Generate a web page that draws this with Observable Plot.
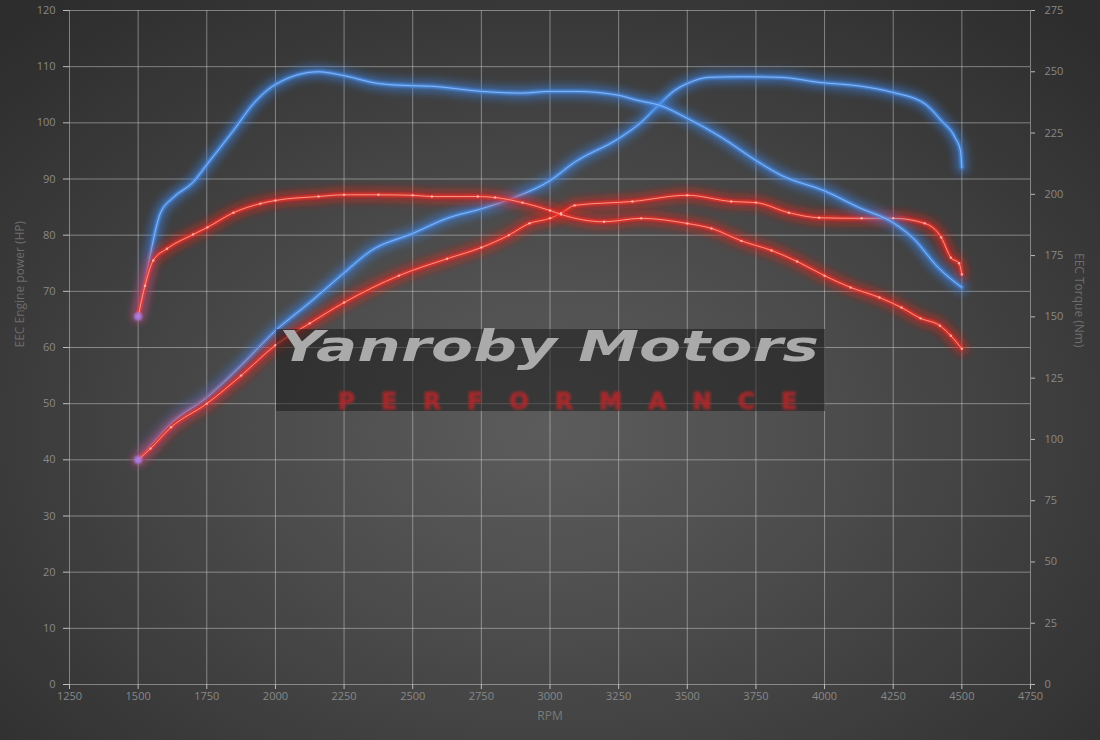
<!DOCTYPE html>
<html>
<head>
<meta charset="utf-8">
<script src="https://cdn.jsdelivr.net/npm/d3@7"></script>
<script src="https://cdn.jsdelivr.net/npm/@observablehq/plot@0.6"></script>
<style>
  html, body { margin: 0; padding: 0; background: #2e2e2e; }
  #wrap {
    position: relative; width: 1100px; height: 740px; overflow: hidden;
    background: radial-gradient(ellipse 70% 75% at 50% 58%, #5c5c5c 0%, #4d4d4d 35%, #3b3b3b 70%, #2d2d2d 100%);
  }
  #chart svg { display: block; }
  #wm { position: absolute; left: 0; top: 0; pointer-events: none; }
</style>
</head>
<body>
<div id="wrap">
  <div id="chart"></div>
  <svg id="wm" width="1100" height="740"></svg>
</div>
<script>
// ---- tick labels ----
const rpmTicks = [1250, 1500, 1750, 2000, 2250, 2500, 2750, 3000, 3250, 3500, 3750, 4000, 4250, 4500, 4750];
const hpTicks = [0, 10, 20, 30, 40, 50, 60, 70, 80, 90, 100, 110, 120];
const nmTicks = [0, 25, 50, 75, 100, 125, 150, 175, 200, 225, 250, 275];

// ---- blue power (HP) ----
const bluePowerRpm = [1500, 1545, 1620, 1750, 1875, 2000, 2125, 2250, 2350, 2500, 2625, 2750, 2870, 3000, 3090, 3250, 3330, 3400, 3455, 3500, 3580, 3700, 3840, 3980, 4135, 4250, 4365, 4425, 4475, 4495, 4500];
const bluePowerHp  = [40, 42.5, 46.5, 51.1, 56.8, 63, 68, 73.3, 77.3, 80.3, 83, 84.7, 86.7, 89.7, 93, 97.2, 100, 103.4, 105.8, 107, 108.1, 108.2, 108.1, 107.2, 106.5, 105.4, 103.4, 100.4, 97.4, 95, 92];

// ---- red power (HP) ----
const redPowerRpm = [1500, 1545, 1620, 1750, 1875, 2000, 2125, 2250, 2450, 2625, 2750, 2850, 2925, 3000, 3040, 3090, 3300, 3500, 3660, 3750, 3870, 3980, 4135, 4250, 4365, 4425, 4460, 4490, 4500];
const redPowerHp  = [40, 42, 45.8, 50, 55, 60.4, 64.3, 68, 72.8, 75.8, 77.8, 80, 82.1, 83, 83.9, 85.3, 86, 87.1, 86, 85.8, 84, 83.1, 83, 83, 82.1, 79.6, 76, 75, 73];

// ---- blue torque (Nm) ----
const blueTorqueRpm = [1500, 1520, 1540, 1580, 1628, 1700, 1752, 1847, 1920, 2000, 2157, 2250, 2375, 2500, 2565, 2750, 2895, 3000, 3090, 3250, 3320, 3400, 3500, 3625, 3750, 3845, 4000, 4125, 4250, 4320, 4415, 4500];
const blueTorqueNm  = [150.1, 161.6, 173.0, 192.0, 198.7, 204.9, 212.4, 226.0, 237.0, 244.8, 250.0, 248.4, 245.2, 244.3, 244.1, 242.0, 241.3, 242.0, 242.0, 240.4, 238.3, 236.3, 231.0, 223.2, 213.8, 207.6, 201.4, 194.6, 188.4, 182.4, 170.0, 162.0];

// ---- red torque (Nm) ----
const redTorqueRpm = [1500, 1525, 1555, 1605, 1700, 1752, 1847, 1945, 2000, 2157, 2250, 2375, 2500, 2570, 2737, 2800, 2900, 3000, 3040, 3197, 3332, 3500, 3588, 3697, 3807, 3900, 4000, 4095, 4200, 4280, 4350, 4420, 4460, 4500];
const redTorqueNm  = [150.1, 162.7, 173.0, 177.8, 183.6, 186.5, 192.5, 196.2, 197.5, 199.1, 199.8, 199.8, 199.6, 199.1, 199.1, 198.7, 196.6, 193.4, 191.8, 188.8, 190.2, 188.1, 186.1, 181.0, 177.1, 172.6, 166.8, 162.0, 157.9, 153.8, 149.4, 146.4, 142.3, 137.0];

// torque is drawn against the HP scale through this ratio (0–275 Nm spans 0–120 HP)
const k = 120 / 275;
const rows = (rpm, vals, f) => rpm.map((r, i) => ({rpm: r, y: vals[i] * f}));

const bluePower = rows(bluePowerRpm, bluePowerHp, 1);
const redPower = rows(redPowerRpm, redPowerHp, 1);
const blueTorque = rows(blueTorqueRpm, blueTorqueNm, k);
const redTorque = rows(redTorqueRpm, redTorqueNm, k);

const BLUE = {glow: "#3a84ea", body: "#4b92ec", core: "#9cc4ff"};
const RED = {glow: "#ee1f1a", body: "#ef2f28", core: "#ffb4a6"};

function glowLine(data, c) {
  return [
    Plot.line(data, {x: "rpm", y: "y", curve: "monotone-x", stroke: c.glow, strokeWidth: 12, strokeOpacity: 0.55, ariaDescription: "glow"}),
    Plot.line(data, {x: "rpm", y: "y", curve: "monotone-x", stroke: c.body, strokeWidth: 3.4, strokeOpacity: 0.95, ariaDescription: "soft"}),
    Plot.line(data, {x: "rpm", y: "y", curve: "monotone-x", stroke: c.core, strokeWidth: 0.9, strokeOpacity: 0.85})
  ];
}

const starts = [bluePower[0], redPower[0], blueTorque[0], redTorque[0]];

const svg = Plot.plot({
  width: 1100,
  height: 740,
  marginLeft: 69,
  marginRight: 70,
  marginTop: 10,
  marginBottom: 56,
  x: {domain: [1250, 4750]},
  y: {domain: [0, 120]},
  style: {background: "transparent", fontFamily: "'Open Sans', sans-serif", fontSize: "11px", color: "#888888"},
  marks: [
    Plot.gridX(rpmTicks, {stroke: "#d0d0d0", strokeOpacity: 0.5}),
    Plot.gridY(hpTicks, {stroke: "#d0d0d0", strokeOpacity: 0.5}),
    Plot.axisX(rpmTicks, {tickSize: 5, tickPadding: 3, label: null, tickFormat: d => String(d), stroke: "#bdbdbd"}),
    Plot.axisY(hpTicks, {anchor: "left", tickSize: 6, tickPadding: 8, label: null, tickFormat: d => String(d), stroke: "#bdbdbd"}),
    Plot.axisY(nmTicks.map(v => v * k), {anchor: "right", tickSize: 4, tickPadding: 10, label: null, tickFormat: d => String(Math.round(d / k)), stroke: "#bdbdbd"}),
    ...glowLine(bluePower, BLUE),
    ...glowLine(redPower, RED),
    ...glowLine(blueTorque, BLUE),
    ...glowLine(redTorque, RED),
    Plot.dot(redPower, {x: "rpm", y: "y", r: 1.2, fill: "#ffc2b8", fillOpacity: 0.8, stroke: null}),
    Plot.dot(redTorque, {x: "rpm", y: "y", r: 1.2, fill: "#ffc2b8", fillOpacity: 0.8, stroke: null}),
    Plot.dot(starts, {x: "rpm", y: "y", r: 4, fill: "#a77ee6", fillOpacity: 0.7, stroke: null, ariaDescription: "soft"}),
    Plot.text(["EEC Engine power (HP)"], {text: d => d, frameAnchor: "left", dx: -49, rotate: -90, fill: "#6d6d6d", fontSize: 12}),
    Plot.text(["EEC Torque (Nm)"], {text: d => d, frameAnchor: "right", dx: 48, rotate: 90, fill: "#6d6d6d", fontSize: 12}),
    Plot.text(["RPM"], {text: d => d, frameAnchor: "bottom", dy: 35, fill: "#7a7a7a", fontSize: 12})
  ]
});

const defs = d3.select(svg).insert("defs", ":first-child");
defs.html(`
  <filter id="glowBlur" filterUnits="userSpaceOnUse" x="0" y="0" width="1100" height="740">
    <feGaussianBlur stdDeviation="4"/>
  </filter>
  <filter id="softBlur" filterUnits="userSpaceOnUse" x="0" y="0" width="1100" height="740">
    <feGaussianBlur stdDeviation="0.9"/>
  </filter>`);
svg.querySelectorAll('[aria-description="glow"]').forEach(g => g.setAttribute("filter", "url(#glowBlur)"));
svg.querySelectorAll('[aria-description="soft"]').forEach(g => g.setAttribute("filter", "url(#softBlur)"));

document.getElementById("chart").appendChild(svg);

// ---- watermark overlay (decoration) ----
const wm = d3.select("#wm");
wm.append("defs").html(`
  <filter id="wmBlur" x="-5%" y="-50%" width="110%" height="200%"><feGaussianBlur stdDeviation="0.7"/></filter>
  <filter id="wmBlur2" x="-5%" y="-50%" width="110%" height="200%"><feGaussianBlur stdDeviation="1.5"/></filter>`);
wm.append("rect").attr("x", 276).attr("y", 329).attr("width", 549).attr("height", 82)
  .attr("fill", "#151515").attr("fill-opacity", 0.5);
wm.append("text").text("Yanroby Motors")
  .attr("x", 279).attr("y", 361)
  .attr("textLength", 540).attr("lengthAdjust", "spacingAndGlyphs")
  .attr("font-family", "'DejaVu Sans', sans-serif").attr("font-weight", "bold").attr("font-style", "italic")
  .attr("font-size", 42).attr("fill", "#aaaaaa").attr("filter", "url(#wmBlur)");
wm.append("text").text("PERFORMANCE")
  .attr("x", 338).attr("y", 409)
  .attr("textLength", 459).attr("lengthAdjust", "spacing")
  .attr("font-family", "'DejaVu Sans', sans-serif").attr("font-weight", "bold")
  .attr("font-size", 23).attr("fill", "#b8262a").attr("stroke", "#b8262a").attr("stroke-width", 1.2)
  .attr("fill-opacity", 0.85).attr("stroke-opacity", 0.7).attr("filter", "url(#wmBlur2)");
</script>
</body>
</html>
